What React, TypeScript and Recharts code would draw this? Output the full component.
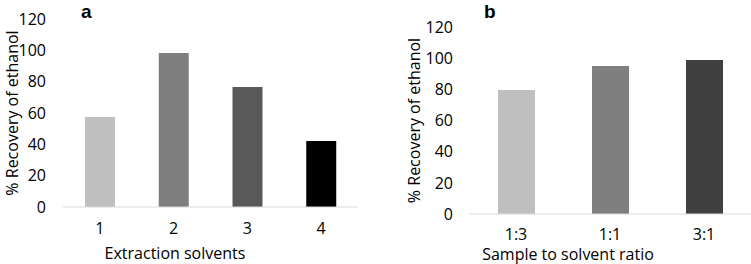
import React from 'react';
import { BarChart, Bar, XAxis, YAxis, Cell } from 'recharts';

const solvents = ['1', '2', '3', '4'];
const solventRecovery = [57.4, 98.3, 76.6, 42.1];
const solventColors = ['#bfbfbf', '#7f7f7f', '#595959', '#000000'];

const ratios = ['1:3', '1:1', '3:1'];
const ratioRecovery = [79.6, 95.0, 98.8];
const ratioColors = ['#bfbfbf', '#7f7f7f', '#404040'];

const yTicks = [0, 20, 40, 60, 80, 100, 120];

const FONT = '"Open Sans", sans-serif';
const FS = 16;
const TEXT = '#000';

const dataA = solvents.map((c, i) => ({ cat: c, value: solventRecovery[i] }));
const dataB = ratios.map((c, i) => ({ cat: c, value: ratioRecovery[i] }));

const yTitle = (x: number) => (props: any) => {
  const vb = props.viewBox || {};
  const cy = vb.y + vb.height / 2;
  return (
    <text x={x} y={cy} transform={`rotate(-90 ${x} ${cy})`} textAnchor="middle" dominantBaseline="central"
      fontFamily={FONT} fontSize={FS} fill={TEXT}>% Recovery of ethanol</text>
  );
};

const xTitle = (text: string, cx: number, y: number) => () => (
  <text x={cx} y={y} textAnchor="middle" dominantBaseline="central" fontFamily={FONT} fontSize={FS} fill={TEXT}>{text}</text>
);

const tickStyle = { fontFamily: FONT, fontSize: FS, fill: TEXT };

export default function App() {
  return (
    <div style={{ position: 'absolute', left: 0, top: 0, width: 751, height: 264, background: '#fff' }}>
      <div style={{ position: 'absolute', left: 0, top: 0 }}>
        <BarChart width={375} height={264} data={dataA} margin={{ top: 19, right: 17, bottom: 27, left: 13 }}>
          <XAxis dataKey="cat" axisLine={{ stroke: '#d9d9d9' }} tickLine={false} tickSize={0} tickMargin={16}
            tick={tickStyle} height={30} label={{ content: xTitle('Extraction solvents', 175, 253) }} />
          <YAxis domain={[0, 120]} ticks={yTicks} axisLine={false} tickLine={false} tickSize={0} tickMargin={17}
            width={50} tick={tickStyle} interval={0} label={{ content: yTitle(12) }} />
          <Bar dataKey="value" barSize={30} isAnimationActive={false}>
            {dataA.map((d, i) => <Cell key={d.cat} fill={solventColors[i]} />)}
          </Bar>
        </BarChart>
      </div>
      <div style={{ position: 'absolute', left: 375, top: 0 }}>
        <BarChart width={376} height={264} data={dataB} margin={{ top: 27, right: 0, bottom: 20, left: 44 }}>
          <XAxis dataKey="cat" axisLine={{ stroke: '#d9d9d9' }} tickLine={false} tickSize={0} tickMargin={15}
            tick={tickStyle} height={30} label={{ content: xTitle('Sample to solvent ratio', 193, 254) }} />
          <YAxis domain={[0, 120]} ticks={yTicks} axisLine={false} tickLine={false} tickSize={0} tickMargin={16}
            width={50} tick={tickStyle} interval={0} label={{ content: yTitle(39) }} />
          <Bar dataKey="value" barSize={37} isAnimationActive={false}>
            {dataB.map((d, i) => <Cell key={d.cat} fill={ratioColors[i]} />)}
          </Bar>
        </BarChart>
      </div>
      <div style={{ position: 'absolute', left: 81, top: 1, fontFamily: '"Liberation Sans", Arial, sans-serif', fontWeight: 'bold', fontSize: 19, lineHeight: '22px', color: '#000' }}>a</div>
      <div style={{ position: 'absolute', left: 484, top: 1, fontFamily: '"Liberation Sans", Arial, sans-serif', fontWeight: 'bold', fontSize: 19, lineHeight: '22px', color: '#000' }}>b</div>
    </div>
  );
}
